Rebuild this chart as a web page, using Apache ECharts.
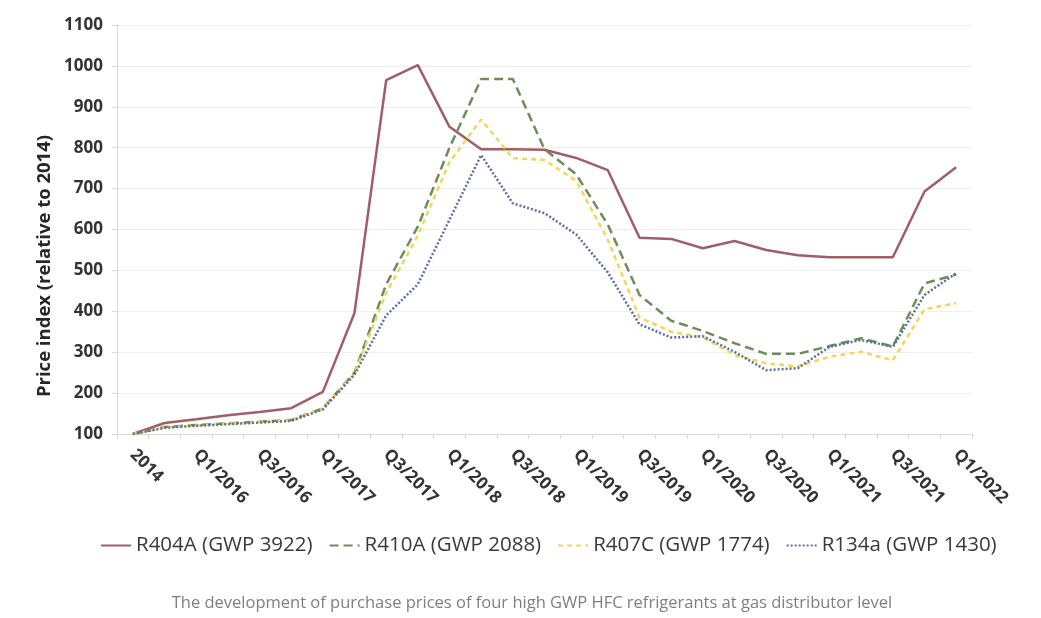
<!DOCTYPE html>
<html>
<head>
<meta charset="utf-8">
<script src="https://cdn.jsdelivr.net/npm/echarts@6/dist/echarts.min.js"></script>
<style>
    html, body { margin: 0; padding: 0; background: #fff; }
    #chart { width: 1041px; height: 618px; }
</style>
</head>
<body>
<div id="chart"></div>
<script>
// x axis categories (every other one gets a label)
const categories = [
    '2014', '2015', 'Q1/2016', 'Q2/2016', 'Q3/2016', 'Q4/2016',
    'Q1/2017', 'Q2/2017', 'Q3/2017', 'Q4/2017',
    'Q1/2018', 'Q2/2018', 'Q3/2018', 'Q4/2018',
    'Q1/2019', 'Q2/2019', 'Q3/2019', 'Q4/2019',
    'Q1/2020', 'Q2/2020', 'Q3/2020', 'Q4/2020',
    'Q1/2021', 'Q2/2021', 'Q3/2021', 'Q4/2021',
    'Q1/2022'
]

// price index values
const r404a = [100, 127, 136, 146, 154, 163, 203, 396, 965, 1002, 851, 796, 796, 795, 775, 745, 580, 577, 554, 572, 550, 537, 532, 532, 532, 693, 752]
const r410a = [100, 117, 122, 126, 130, 134, 163, 250, 466, 607, 800, 968, 968, 796, 735, 612, 440, 377, 352, 322, 296, 296, 315, 334, 314, 468, 490]
const r407c = [100, 116, 121, 125, 129, 133, 162, 248, 445, 585, 765, 869, 774, 770, 719, 575, 385, 350, 336, 293, 273, 265, 289, 301, 280, 405, 420]
const r134a = [100, 115, 120, 124, 128, 132, 160, 245, 390, 466, 624, 782, 664, 640, 588, 495, 368, 336, 339, 301, 256, 261, 313, 330, 313, 440, 493]

const seriesNames = ['R404A (GWP 3922)', 'R410A (GWP 2088)', 'R407C (GWP 1774)', 'R134a (GWP 1430)']
const yTicks = { min: 100, max: 1100, step: 100 }

const chart = echarts.init(document.getElementById('chart'))

const lineSeries = (name, data, color, type) => ({
    name: name,
    type: 'line',
    data: data,
    symbol: 'none',
    lineStyle: { color: color, width: 2.5, type: type },
    itemStyle: { color: color }
})

const option = {
    animation: false,
    grid: { left: 117, right: 69, top: 25, bottom: 184 },
    legend: {
        left: 95,
        top: 530,
        itemWidth: 30,
        itemHeight: 14,
        itemGap: 16,
        itemStyle: { opacity: 0 },
        textStyle: { fontFamily: 'Open Sans', fontSize: 20.5, color: '#3a3a3a' },
        data: seriesNames
    },
    xAxis: {
        type: 'category',
        boundaryGap: true,
        data: categories,
        axisLine: { lineStyle: { color: '#d9d9d9', width: 1 } },
        axisTick: { show: true, interval: 0, length: 5, lineStyle: { color: '#d9d9d9' } },
        axisLabel: {
            interval: 1,
            rotate: -45,
            margin: 18,
            fontFamily: 'Open Sans',
            fontSize: 17,
            fontWeight: 'bold',
            color: '#333'
        },
        splitLine: { show: false }
    },
    yAxis: {
        type: 'value',
        min: yTicks.min,
        max: yTicks.max,
        interval: yTicks.step,
        axisLine: { show: true, lineStyle: { color: '#d9d9d9' } },
        axisTick: { show: true, length: 5, lineStyle: { color: '#d9d9d9' } },
        axisLabel: {
            margin: 14,
            fontFamily: 'Open Sans',
            fontSize: 17,
            fontWeight: 'bold',
            color: '#333',
            formatter: (v) => String(v)
        },
        splitLine: { lineStyle: { color: '#f0f0f0' } }
    },
    graphic: [
        {
            type: 'text',
            x: 45,
            y: 266,
            rotation: Math.PI / 2,
            style: {
                text: 'Price index (relative to 2014)',
                font: 'bold 18.5px "Open Sans"',
                fill: '#262626',
                align: 'center',
                verticalAlign: 'middle'
            }
        },
        {
            type: 'text',
            x: 532,
            y: 603,
            style: {
                text: 'The development of purchase prices of four high GWP HFC refrigerants at gas distributor level',
                font: '16.5px "Open Sans"',
                fill: '#7f7f7f',
                align: 'center',
                verticalAlign: 'middle'
            }
        }
    ],
    series: [
        lineSeries(seriesNames[0], r404a, '#a05e67', 'solid'),
        lineSeries(seriesNames[1], r410a, '#6e8c5c', [9, 5]),
        lineSeries(seriesNames[2], r407c, '#f2d55c', [5, 4]),
        lineSeries(seriesNames[3], r134a, '#5a6fa0', [2, 2])
    ]
}

chart.setOption(option)
</script>
</body>
</html>
